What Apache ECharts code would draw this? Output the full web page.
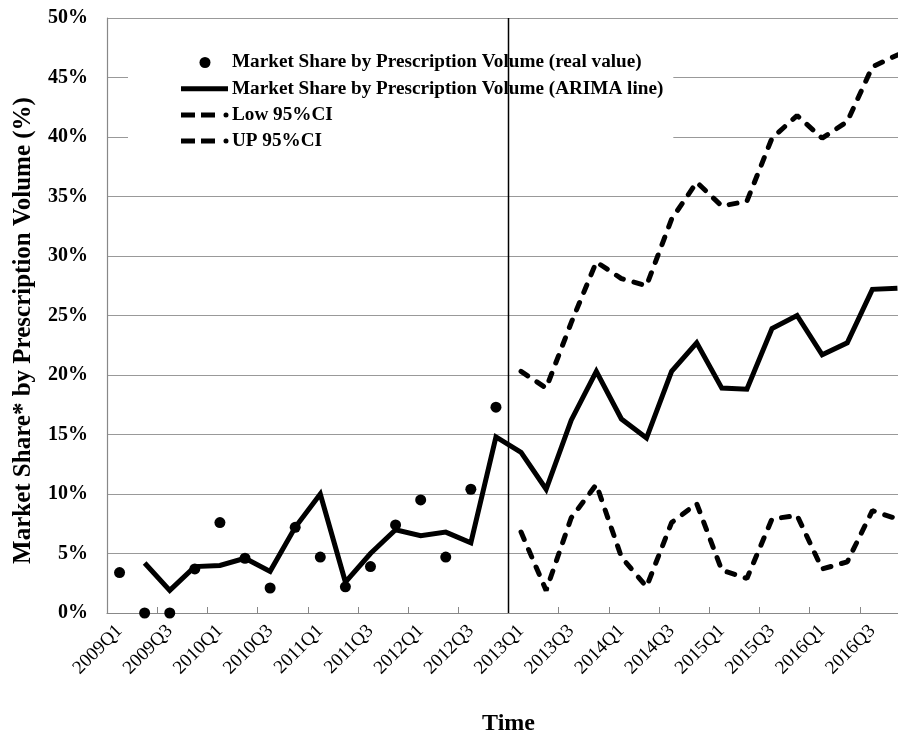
<!DOCTYPE html>
<html>
<head>
<meta charset="utf-8">
<script src="https://cdn.jsdelivr.net/npm/echarts@6/dist/echarts.min.js"></script>
<style>
html,body{margin:0;padding:0;background:#fff;}
#chart{width:898px;height:733px;}
</style>
</head>
<body>
<div id="chart"></div>
<script>
const categories = ['2009Q1','2009Q2','2009Q3','2009Q4','2010Q1','2010Q2','2010Q3','2010Q4',
  '2011Q1','2011Q2','2011Q3','2011Q4','2012Q1','2012Q2','2012Q3','2012Q4',
  '2013Q1','2013Q2','2013Q3','2013Q4','2014Q1','2014Q2','2014Q3','2014Q4',
  '2015Q1','2015Q2','2015Q3','2015Q4','2016Q1','2016Q2','2016Q3','2016Q4'];

const realValue = [3.4, 0.0, 0.0, 3.7, 7.6, 4.6, 2.1, 7.2,
  4.7, 2.2, 3.9, 7.4, 9.5, 4.7, 10.4, 17.3];

const arimaLine = [null, 4.2, 1.9, 3.9, 4.0, 4.6, 3.5, 7.2,
  10.0, 2.6, 5.0, 7.0, 6.5, 6.8, 5.9, 14.8,
  13.5, 10.4, 16.2, 20.3, 16.3, 14.7, 20.3, 22.7,
  18.9, 18.8, 23.9, 25.0, 21.7, 22.7, 27.2, 27.3];

const low95 = [null, null, null, null, null, null, null, null,
  null, null, null, null, null, null, null, null,
  6.8, 1.9, 8.0, 10.8, 4.7, 2.2, 7.6, 9.2,
  3.6, 2.9, 7.9, 8.2, 3.7, 4.3, 8.6, 7.9];

const up95 = [null, null, null, null, null, null, null, null,
  null, null, null, null, null, null, null, null,
  20.3, 18.9, 24.4, 29.5, 28.1, 27.5, 33.1, 36.2,
  34.2, 34.6, 39.9, 41.8, 39.9, 41.3, 45.9, 46.9];

const dividerAt = 16; // band boundary before 2013Q1
const yTicks = { min: 0, max: 50, interval: 5 };

const FONT = '"Times New Roman","Liberation Serif",serif';
const names = ['Market Share by Prescription Volume (real value)',
  'Market Share by Prescription Volume (ARIMA line)',
  'Low 95%CI', 'UP 95%CI'];

const solidIcon = 'path://M0,0 M50,11 M1,3 L48,3 L48,8 L1,8 Z';
const dashIcon = 'path://M0,0 M50,11 M1,3 L15,3 L15,8 L1,8 Z M21,3 L35,3 L35,8 L21,8 Z M43.5,5.5 A2.5,2.5 0 1 1 48.5,5.5 A2.5,2.5 0 1 1 43.5,5.5 Z';

const chart = echarts.init(document.getElementById('chart'), null, {renderer: 'canvas'});
chart.setOption({
  animation: false,
  backgroundColor: '#fff',
  textStyle: { fontFamily: FONT },
  grid: { left: 107, top: 18, bottom: 120, right: -12, containLabel: false, outerBoundsMode: 'none' },
  legend: {
    data: [
      { name: names[0], icon: 'circle' },
      { name: names[1], icon: solidIcon },
      { name: names[2], icon: dashIcon },
      { name: names[3], icon: dashIcon }
    ],
    orient: 'vertical',
    left: 128,
    top: 49,
    itemWidth: 50,
    itemHeight: 11,
    itemGap: 7.2,
    padding: [4, 10, 8, 52],
    backgroundColor: '#fff',
    itemStyle: { borderWidth: 0 },
    textStyle: { fontFamily: FONT, fontWeight: 'bold', fontSize: 19.2, color: '#000', lineHeight: 18, padding: [0,0,0,-3] },
    selectedMode: false
  },
  xAxis: [{
    type: 'category',
    data: categories,
    boundaryGap: true,
    name: 'Time',
    nameLocation: 'middle',
    nameGap: 99,
    nameTextStyle: { fontFamily: FONT, fontWeight: 'bold', fontSize: 24, color: '#000' },
    axisLine: { lineStyle: { color: '#888', width: 1.2 } },
    axisTick: { show: true, inside: true, interval: 1, length: 6, lineStyle: { color: '#888' } },
    axisLabel: { interval: 1, rotate: 45, margin: 15, fontFamily: FONT, fontSize: 19, color: '#000' },
    splitLine: { show: false }
  }, {
    type: 'value', min: 0, max: categories.length, show: false
  }],
  yAxis: {
    type: 'value',
    min: yTicks.min, max: yTicks.max, interval: yTicks.interval,
    name: 'Market Share* by Prescription Volume (%)',
    nameLocation: 'middle',
    nameGap: 71,
    nameTextStyle: { fontFamily: FONT, fontWeight: 'bold', fontSize: 25, color: '#000', padding: [0, 0, 0, -30] },
    axisLine: { show: true, lineStyle: { color: '#888', width: 1.2 } },
    axisTick: { show: false },
    axisLabel: { formatter: '{value}%', fontFamily: FONT, fontWeight: 'bold', fontSize: 20, color: '#000', margin: 19 },
    splitLine: { show: true, lineStyle: { color: '#999', width: 1.2 } }
  },
  series: [
    {
      name: names[0], type: 'scatter', data: realValue,
      symbol: 'circle', symbolSize: 11,
      itemStyle: { color: '#000', opacity: 1 }, z: 3
    },
    {
      name: names[1], type: 'line', data: arimaLine,
      symbol: 'none', connectNulls: false,
      lineStyle: { color: '#000', width: 5, join: 'miter' },
      itemStyle: { color: '#000' }, z: 3
    },
    {
      name: names[2], type: 'line', data: low95,
      symbol: 'none',
      lineStyle: { color: '#000', width: 5, type: [8, 11], cap: 'round' },
      itemStyle: { color: '#000' }, z: 3
    },
    {
      name: names[3], type: 'line', data: up95,
      symbol: 'none',
      lineStyle: { color: '#000', width: 5, type: [8, 11], cap: 'round' },
      itemStyle: { color: '#000' }, z: 3
    },
    {
      name: 'divider', type: 'line', xAxisIndex: 1,
      data: [[dividerAt, yTicks.min], [dividerAt, yTicks.max]],
      symbol: 'none', silent: true,
      lineStyle: { color: '#000', width: 1.5 }, z: 6
    }
  ]
});
</script>
</body>
</html>
